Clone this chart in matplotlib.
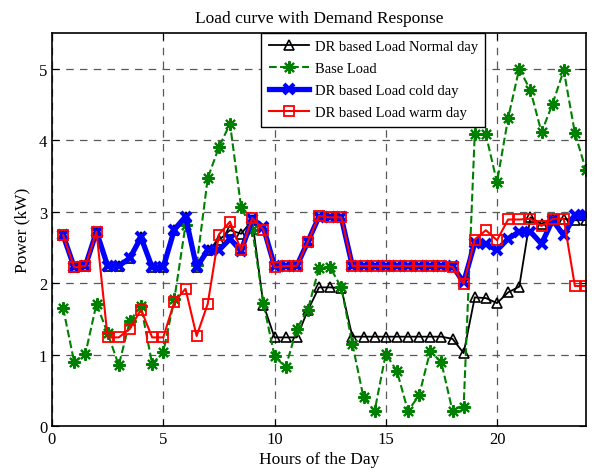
import matplotlib
matplotlib.use("Agg")
import matplotlib.pyplot as plt

plt.rcParams['font.family'] = ['Liberation Serif', 'DejaVu Serif']

hours = [0.5, 1, 1.5, 2, 2.5, 3, 3.5, 4, 4.5, 5, 5.5, 6, 6.5, 7, 7.5, 8,
         8.5, 9, 9.5, 10, 10.5, 11, 11.5, 12, 12.5, 13, 13.5, 14, 14.5, 15, 15.5, 16,
         16.5, 17, 17.5, 18, 18.5, 19, 19.5, 20, 20.5, 21, 21.5, 22, 22.5, 23, 23.5, 24]

normal_day = [2.67, 2.22, 2.24, 2.72, 2.24, 2.24, 2.35, 2.64, 2.22, 2.22, 2.75, 2.93, 2.22, 2.46, 2.60, 2.74,
              2.69, 2.88, 1.70, 1.24, 1.24, 1.24, 1.62, 1.94, 1.94, 1.93, 1.25, 1.25, 1.25, 1.25, 1.25, 1.25,
              1.25, 1.25, 1.25, 1.22, 1.02, 1.80, 1.79, 1.72, 1.87, 1.95, 2.92, 2.83, 2.90, 2.90, 2.88, 2.88]

base_load = [1.65, 0.89, 1.01, 1.71, 1.30, 0.85, 1.47, 1.68, 0.87, 1.03, 1.78, 2.81, 2.25, 3.47, 3.90, 4.23,
             3.06, 2.75, 1.72, 0.98, 0.82, 1.36, 1.63, 2.21, 2.22, 1.94, 1.15, 0.40, 0.21, 1.01, 0.77, 0.21,
             0.43, 1.05, 0.89, 0.21, 0.26, 4.09, 4.08, 3.41, 4.31, 5.00, 4.70, 4.11, 4.51, 4.98, 4.10, 3.58]

cold_day = [2.67, 2.22, 2.24, 2.72, 2.24, 2.24, 2.35, 2.64, 2.22, 2.22, 2.75, 2.93, 2.22, 2.46, 2.46, 2.62,
            2.45, 2.90, 2.78, 2.24, 2.24, 2.24, 2.58, 2.93, 2.92, 2.92, 2.24, 2.24, 2.24, 2.24, 2.24, 2.24,
            2.24, 2.24, 2.24, 2.24, 2.01, 2.56, 2.55, 2.46, 2.62, 2.72, 2.72, 2.55, 2.88, 2.67, 2.95, 2.95]

warm_day = [2.67, 2.22, 2.24, 2.72, 1.24, 1.24, 1.36, 1.63, 1.24, 1.24, 1.74, 1.92, 1.26, 1.71, 2.68, 2.86,
            2.46, 2.91, 2.75, 2.22, 2.24, 2.24, 2.58, 2.94, 2.92, 2.92, 2.24, 2.24, 2.24, 2.24, 2.24, 2.24,
            2.24, 2.24, 2.24, 2.23, 1.99, 2.61, 2.74, 2.60, 2.89, 2.89, 2.90, 2.80, 2.90, 2.90, 1.96, 1.96]

labels = ['DR based Load Normal day', 'Base Load', 'DR based Load cold day', 'DR based Load warm day']
xticks = [0, 5, 10, 15, 20]
yticks = [0, 1, 2, 3, 4, 5]

fig = plt.figure(figsize=(6.12, 4.77), dpi=100)
ax = fig.add_axes([52/612, 50/477, 534/612, 393/477])

green = (0, 0.5, 0)
asterisk = (8, 2, 0)
ax.plot(hours, normal_day, '-', color='k', lw=1.3, marker='^', ms=7, mfc='none', mec='k', mew=1.2,
        label=labels[0])
ax.plot(hours, base_load, '--', color=green, lw=1.5, marker=asterisk, ms=9, mfc=green, mec=green, mew=1.5,
        label=labels[1])
ax.plot(hours, cold_day, '-', color='b', lw=3.8, marker='x', ms=7, mec='b', mew=3.0,
        label=labels[2])
ax.plot(hours, warm_day, '-', color='r', lw=1.5, marker='s', ms=7, mfc='none', mec='r', mew=1.3,
        label=labels[3])

ax.set_xlim(0, 24)
ax.set_ylim(0, 5.5)
ax.set_xticks(xticks)
ax.set_yticks(yticks)
ax.tick_params(direction='in', top=True, right=True, labelsize=12, length=5, width=0.8)
ax.grid(True, color='0.35', linestyle=(0, (6, 5)), linewidth=0.9)
for s in ax.spines.values():
    s.set_linewidth(1.2)

ax.set_title('Load curve with Demand Response', fontsize=12.5, pad=8)
ax.set_xlabel('Hours of the Day', fontsize=12.5, labelpad=3)
ax.set_ylabel('Power (kW)', fontsize=12.5, labelpad=6)

leg = ax.legend(loc='upper left', bbox_to_anchor=(0.392, 1.0), fontsize=10.5, fancybox=False,
                framealpha=1, edgecolor='k', borderaxespad=0, handlelength=2.8,
                borderpad=0.5, labelspacing=0.6, handletextpad=0.35)
leg.get_frame().set_linewidth(1.0)

fig.savefig('out.png', dpi=100)
